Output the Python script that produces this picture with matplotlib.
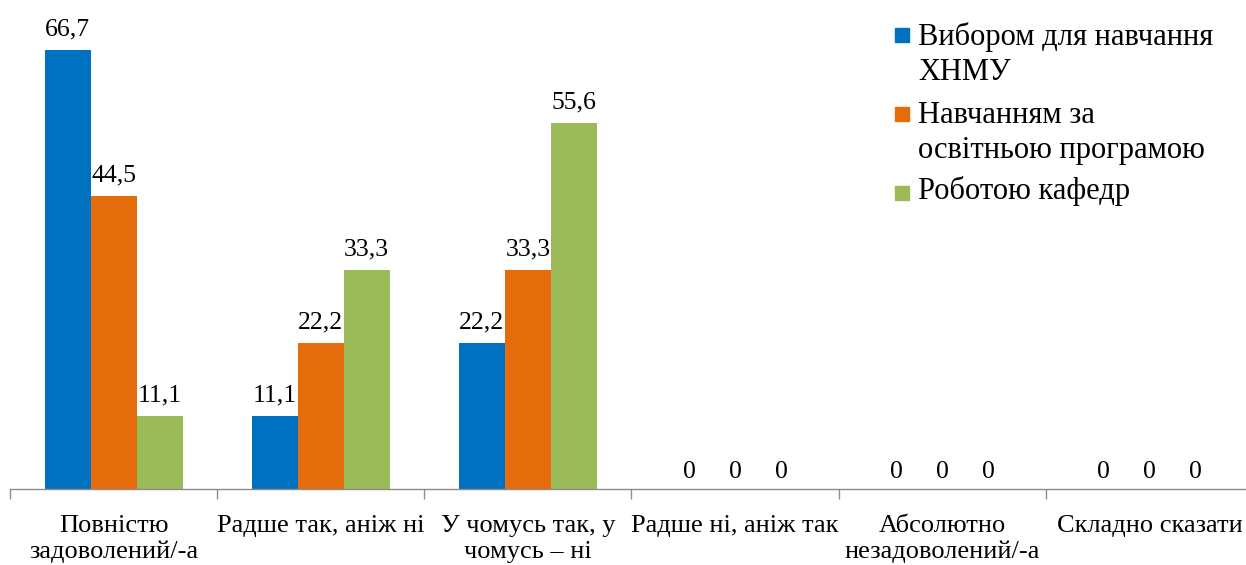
import matplotlib
matplotlib.use("Agg")
import matplotlib.pyplot as plt
import numpy as np
from matplotlib.patches import Rectangle

categories = ["Повністю\nзадоволений/-а", "Радше так, аніж ні", "У чомусь так, у\nчомусь – ні",
              "Радше ні, аніж так", "Абсолютно\nнезадоволений/-а", "Складно сказати"]
series_names = ["Вибором для навчання\nХНМУ", "Навчанням за\nосвітньою програмою", "Роботою кафедр"]
s1 = [66.7, 11.1, 22.2, 0, 0, 0]
s2 = [44.5, 22.2, 33.3, 0, 0, 0]
s3 = [11.1, 33.3, 55.6, 0, 0, 0]
colors = ["#0070C0", "#E46C0A", "#9BBB59"]

plt.rcParams['font.family'] = ['Liberation Serif', 'DejaVu Serif']

W, H = 1246, 565
fig = plt.figure(figsize=(W/100, H/100), dpi=100)
ax = fig.add_axes([10/W, (H-489)/H, 1243/W, 479/H])

x = np.arange(len(categories))
bw = 0.222
data = [s1, s2, s3]
for i, (vals, c) in enumerate(zip(data, colors)):
    pos = x + (i-1)*bw
    ax.bar(pos, vals, width=bw, color=c, zorder=2)
    for px, v in zip(pos, vals):
        lab = ("%.1f" % v).replace(".", ",") if v != 0 else "0"
        off = 7.0 if v != 0 else 4.0
        ax.annotate(lab, (px, v), xytext=(0, off), textcoords="offset points",
                    ha="center", va="bottom", fontsize=18.5, color="black")

ax.set_xlim(-0.5, len(categories)-0.5)
ax.set_ylim(0, 72.8)
for s in ["left", "right", "top"]:
    ax.spines[s].set_visible(False)
ax.spines["bottom"].set_color("#8c8c8c")
ax.spines["bottom"].set_linewidth(1.0)
ax.set_yticks([])
ax.set_xticks(x)
ax.set_xticklabels(categories, fontsize=19, linespacing=1.2)
ax.tick_params(axis="x", which="major", length=0, pad=19)
ax.set_xticks(np.arange(-0.5, len(categories)), minor=True)
ax.tick_params(axis="x", which="minor", length=7, color="#8c8c8c", width=1.0)

# legend (manual)
sq_centers = [35, 114, 193]
baselines = [(45, 80), (123, 158), (199, None)]
for name, c, yc, bl in zip(series_names, colors, sq_centers, baselines):
    fig.patches.append(Rectangle((895/W, 1-(yc+7)/H), 14/W, 14/H,
                                 transform=fig.transFigure, color=c, figure=fig))
    for ln, yy in zip(name.split("\n"), bl):
        fig.text(918/W, 1-yy/H, ln, fontsize=22, va="baseline", ha="left")

fig.savefig("out.png", dpi=100)
